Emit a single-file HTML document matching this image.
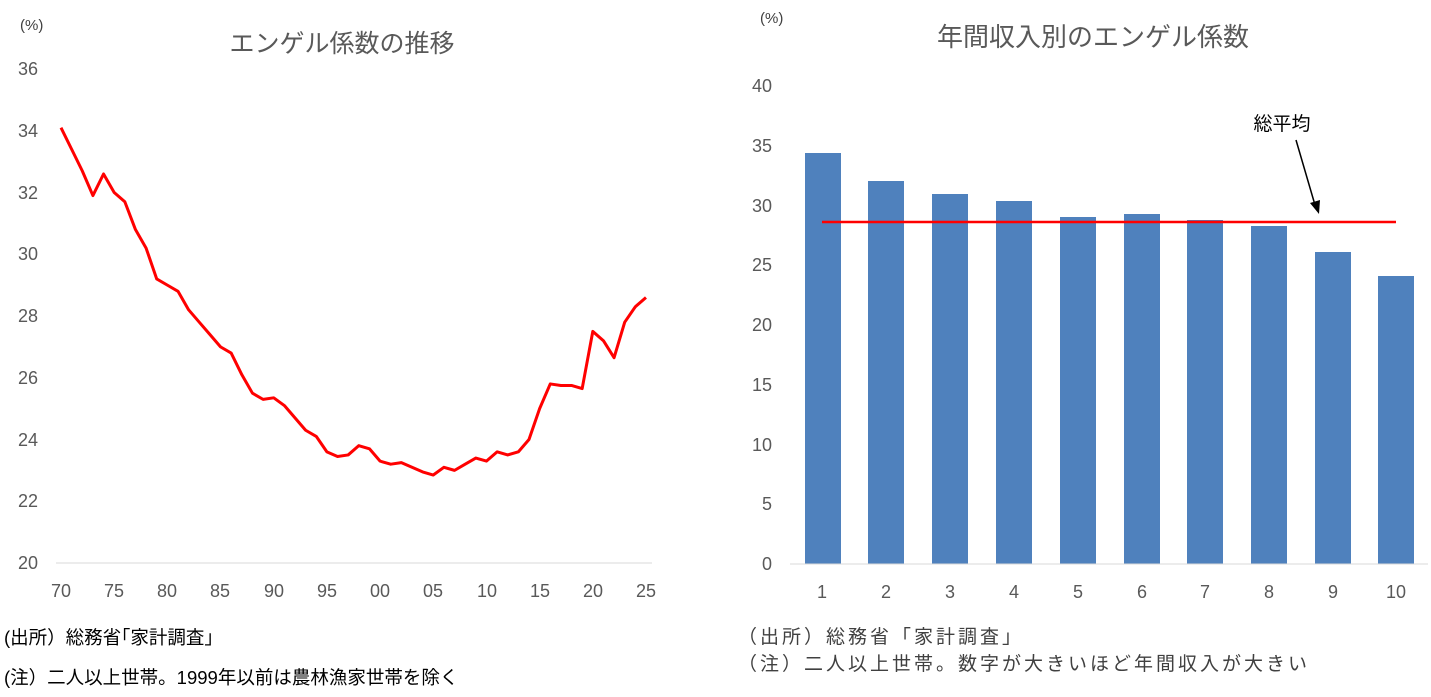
<!DOCTYPE html>
<html><head><meta charset="utf-8"><style>
body{margin:0;background:#fff;}
svg text{font-family:"Liberation Sans","Noto Sans CJK JP",sans-serif;}
</style></head><body>
<svg width="1431" height="692" xmlns="http://www.w3.org/2000/svg">
<rect width="1431" height="692" fill="#fff"/>
<!-- LEFT CHART -->
<text x="20" y="30" font-size="15" fill="#404040">(%)</text>
<text x="342" y="52" font-size="25" fill="#595959" text-anchor="middle">エンゲル係数の推移</text>
<g font-size="18" fill="#595959" text-anchor="end">
<text x="38" y="75">36</text><text x="38" y="137">34</text><text x="38" y="199">32</text>
<text x="38" y="260">30</text><text x="38" y="322">28</text><text x="38" y="384">26</text>
<text x="38" y="446">24</text><text x="38" y="507">22</text><text x="38" y="569">20</text>
</g>
<line x1="56" y1="563" x2="652" y2="563" stroke="#d9d9d9" stroke-width="1"/>
<g font-size="18" fill="#595959" text-anchor="middle">
<text x="61" y="597">70</text><text x="114" y="597">75</text><text x="167" y="597">80</text>
<text x="220" y="597">85</text><text x="274" y="597">90</text><text x="327" y="597">95</text>
<text x="380" y="597">00</text><text x="433" y="597">05</text><text x="487" y="597">10</text>
<text x="540" y="597">15</text><text x="593" y="597">20</text><text x="646" y="597">25</text>
</g>
<g transform="translate(61,563) scale(10.636,-30.875) translate(0,-20)">
<polyline fill="none" stroke="#ff0000" stroke-width="3" vector-effect="non-scaling-stroke" stroke-linejoin="round"
points="0,34.1 1,33.4 2,32.7 3,31.9 4,32.6 5,32.0 6,31.7 7,30.8 8,30.2 9,29.2 10,29.0 11,28.8 12,28.2 13,27.8 14,27.4 15,27.0 16,26.8 17,26.1 18,25.5 19,25.3 20,25.35 21,25.1 22,24.7 23,24.3 24,24.1 25,23.6 26,23.45 27,23.5 28,23.8 29,23.7 30,23.3 31,23.2 32,23.25 33,23.1 34,22.95 35,22.85 36,23.1 37,23.0 38,23.2 39,23.4 40,23.3 41,23.6 42,23.5 43,23.6 44,24.0 45,25.0 46,25.8 47,25.75 48,25.75 49,25.65 50,27.5 51,27.2 52,26.65 53,27.8 54,28.3 55,28.6"/>
</g>
<text x="4" y="644" font-size="18.5" fill="#000">(出所）総務省｢家計調査｣</text>
<text x="4" y="684" font-size="18.5" fill="#000">(注）二人以上世帯。1999年以前は農林漁家世帯を除く</text>

<!-- RIGHT CHART -->
<text x="760" y="23" font-size="15" fill="#404040">(%)</text>
<text x="1093" y="46" font-size="26" fill="#595959" text-anchor="middle">年間収入別のエンゲル係数</text>
<g font-size="18" fill="#595959" text-anchor="end">
<text x="772" y="92">40</text><text x="772" y="152">35</text><text x="772" y="212">30</text>
<text x="772" y="271">25</text><text x="772" y="331">20</text><text x="772" y="391">15</text>
<text x="772" y="451">10</text><text x="772" y="510">5</text><text x="772" y="570">0</text>
</g>
<g fill="#4f81bd">
<rect x="805" y="153" width="36" height="411"/>
<rect x="868" y="181" width="36" height="383"/>
<rect x="932" y="194" width="36" height="370"/>
<rect x="996" y="201" width="36" height="363"/>
<rect x="1060" y="217" width="36" height="347"/>
<rect x="1124" y="214" width="36" height="350"/>
<rect x="1187" y="220" width="36" height="344"/>
<rect x="1251" y="226" width="36" height="338"/>
<rect x="1315" y="252" width="36" height="312"/>
<rect x="1378" y="276" width="36" height="288"/>
</g>
<line x1="790" y1="564" x2="1428" y2="564" stroke="#d9d9d9" stroke-width="1"/>
<line x1="822" y1="222" x2="1396" y2="222" stroke="#ff0000" stroke-width="2.5"/>
<g font-size="18" fill="#595959" text-anchor="middle">
<text x="822" y="598">1</text><text x="886" y="598">2</text><text x="950" y="598">3</text>
<text x="1014" y="598">4</text><text x="1078" y="598">5</text><text x="1142" y="598">6</text>
<text x="1205" y="598">7</text><text x="1269" y="598">8</text><text x="1333" y="598">9</text>
<text x="1396" y="598">10</text>
</g>
<text x="1282" y="130" font-size="19" fill="#000" text-anchor="middle">総平均</text>
<line x1="1296" y1="140" x2="1315" y2="205" stroke="#000" stroke-width="1.5"/>
<polygon points="1319,214 1310,203 1320,200" fill="#000"/>
<text x="738" y="643" font-size="19" fill="#404040" letter-spacing="3">（出所）総務省「家計調査」</text>
<text x="738" y="670" font-size="19" fill="#404040" letter-spacing="3">（注）二人以上世帯。数字が大きいほど年間収入が大きい</text>
</svg>
</body></html>
